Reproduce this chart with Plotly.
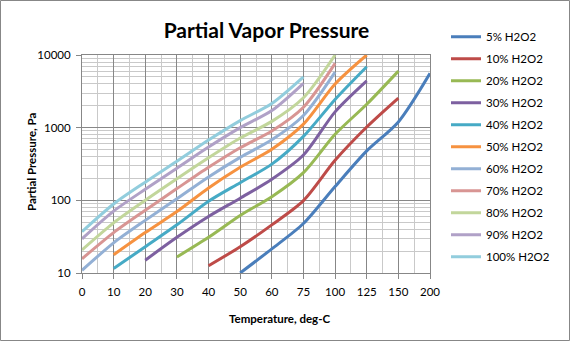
import plotly.graph_objects as go

# Temperature categories (deg-C) on an evenly spaced category axis
temps = [0, 10, 20, 30, 40, 50, 60, 75, 100, 125, 150, 200]

# Partial vapor pressure of H2O2 (Pa) for each solution strength
p_5 = [None, None, None, None, None, 10, 21.5, 48, 155, 480, 1200, 5600]
p_10 = [None, None, None, None, 12.6, 23, 46, 99, 355, 1020, 2550, None]
p_20 = [None, None, None, 16.6, 31, 62, 112, 240, 810, 2100, 6000, None]
p_30 = [None, None, 15, 31, 60, 107, 195, 420, 1650, 4400, None, None]
p_40 = [None, 11.5, 23, 46, 97, 175, 315, 760, 2450, 6900, None, None]
p_50 = [None, 17.8, 36, 70, 148, 285, 505, 1120, 4000, 10000, None, None]
p_60 = [10.9, 26, 53, 105, 210, 390, 680, 1470, 5800, None, None, None]
p_70 = [15.7, 36, 73, 145, 285, 530, 900, 1914, 7670, None, None, None]
p_80 = [20.8, 49, 100, 198, 385, 720, 1220, 2580, 10000, None, None, None]
p_90 = [29.5, 71, 142, 276, 540, 1000, 1720, 4080, None, None, None, None]
p_100 = [37, 89, 178, 345, 675, 1250, 2150, 5000, None, None, None, None]

series_names = ["5% H2O2", "10% H2O2", "20% H2O2", "30% H2O2", "40% H2O2",
                "50% H2O2", "60% H2O2", "70% H2O2", "80% H2O2", "90% H2O2",
                "100% H2O2"]
series_values = [p_5, p_10, p_20, p_30, p_40, p_50, p_60, p_70, p_80, p_90, p_100]
series_colors = ["#4A7EBB", "#BE4B48", "#98B954", "#7D60A0", "#46AAC5",
                 "#F69240", "#93B0D5", "#D89593", "#C2D69B", "#B0A1C7",
                 "#92CDDD"]

y_ticks = [10, 100, 1000, 10000]
y_tick_text = ["10", "100", "1000", "10000"]

# page geometry (pixels)
W, H = 570, 341
L, R, T, B = 82, 140, 55, 68
PW, PH = W - L - R, H - T - B

def px_to_paper_x(px):
    return (px - L) / PW

def px_to_paper_y(py):
    return (H - B - py) / PH

xpos = list(range(len(temps)))

# the key is split over two legend boxes stacked in one column
fig = go.Figure()
for k, (name, vals, color) in enumerate(zip(series_names, series_values, series_colors)):
    fig.add_trace(go.Scatter(
        x=xpos, y=vals, name=name, mode="lines",
        line=dict(color=color, width=3, shape="spline", smoothing=0.8),
        connectgaps=False, legendgroup=name,
        legend="legend" if k < 6 else "legend2",
    ))

major = "#878787"
minor_c = "#C9C9C9"
font_family = "Lato, 'Open Sans', sans-serif"

minor_x = [i + 0.5 for i in xpos[:-1]]
minor_y = [m * 10 ** e for e in range(1, 4) for m in range(2, 10)]

fig.update_xaxes(
    range=[0, len(temps) - 1],
    tickmode="array", tickvals=xpos, ticktext=[str(t) for t in temps],
    ticks="outside", ticklen=5, tickcolor=major, tickwidth=1,
    ticklabelstandoff=3,
    showgrid=True, gridcolor=major, gridwidth=1,
    showline=True, linecolor=major, linewidth=1, mirror=True,
    zeroline=False,
    tickfont=dict(family=font_family, size=11.5, color="#000000"),
    minor=dict(tickmode="array", tickvals=minor_x, showgrid=True,
               gridcolor=minor_c, gridwidth=1, ticks=""),
)
fig.update_yaxes(
    type="log", range=[1, 4],
    tickmode="array", tickvals=y_ticks, ticktext=y_tick_text,
    ticks="outside", ticklen=5, tickcolor=major, tickwidth=1,
    ticklabelstandoff=3,
    showgrid=True, gridcolor=major, gridwidth=1,
    showline=True, linecolor=major, linewidth=1, mirror=True,
    zeroline=False,
    tickfont=dict(family=font_family, size=11.5, color="#000000"),
    minor=dict(tickmode="array", tickvals=minor_y, showgrid=True,
               gridcolor=minor_c, gridwidth=1, ticks=""),
)

legend_style = dict(
    xanchor="left", yanchor="top",
    font=dict(family=font_family, size=11.5, color="#000000"),
    tracegroupgap=3, itemwidth=30, bgcolor="rgba(0,0,0,0)",
    traceorder="grouped",
)

fig.update_layout(
    width=W, height=H,
    margin=dict(l=L, r=R, t=T, b=B, pad=0, autoexpand=False),
    paper_bgcolor="#FFFFFF", plot_bgcolor="#FFFFFF",
    font=dict(family=font_family, size=11.5, color="#000000"),
    title=dict(text="<b>Partial Vapor Pressure</b>", x=266.5 / W, xref="container",
               xanchor="center", y=1 - 31 / H, yanchor="middle", yref="container",
               font=dict(family=font_family, size=21, color="#000000")),
    showlegend=True,
    legend=dict(x=px_to_paper_x(446), y=px_to_paper_y(22.3), **legend_style),
    legend2=dict(x=px_to_paper_x(446), y=px_to_paper_y(154.3), **legend_style),
    annotations=[
        dict(text="<b>Partial Pressure, Pa</b>", textangle=-90,
             x=px_to_paper_x(31), y=px_to_paper_y(162), xref="paper", yref="paper",
             xanchor="center", yanchor="middle", showarrow=False,
             font=dict(family=font_family, size=11.5, color="#000000")),
        dict(text="<b>Temperature, deg-C</b>",
             x=px_to_paper_x(279.5), y=px_to_paper_y(318), xref="paper", yref="paper",
             xanchor="center", yanchor="middle", showarrow=False,
             font=dict(family=font_family, size=11.5, color="#000000")),
    ],
    shapes=[
        dict(type="rect", xref="paper", yref="paper",
             x0=px_to_paper_x(0.5), x1=px_to_paper_x(W - 0.5),
             y0=px_to_paper_y(H - 0.5), y1=px_to_paper_y(0.5),
             line=dict(color=major, width=1), layer="below"),
    ],
)

fig.write_html("out.html")
